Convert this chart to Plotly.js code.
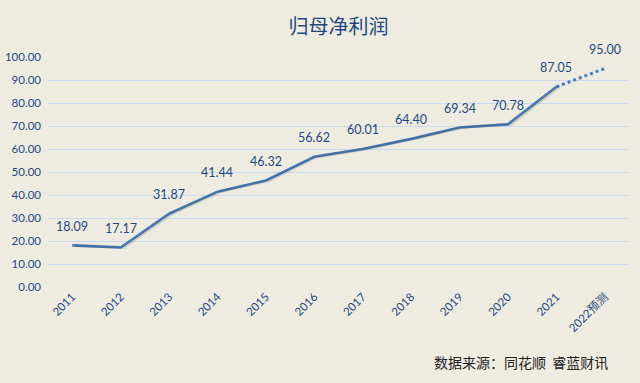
<!DOCTYPE html>
<html>
<head>
<meta charset="utf-8">
<script src="https://cdn.plot.ly/plotly-3.0.1.min.js"></script>
<style>html,body{margin:0;padding:0;background:#fff;}#chart{width:640px;height:383px;}</style>
</head>
<body>
<div id="chart"></div>
<script>
var categories = ["2011","2012","2013","2014","2015","2016","2017","2018","2019","2020","2021","2022预测"];
var profit = [18.09,17.17,31.87,41.44,46.32,56.62,60.01,64.40,69.34,70.78,87.05,95.00];
var yTicks = [0,10,20,30,40,50,60,70,80,90,100];
var titleText = "归母净利润";
var sourceText = "数据来源：同花顺  睿蓝财讯";

var dark = "#1F497D";
var lineColor = "#4A7EBB";

var actualX = categories.slice(0, 11);
var actualY = profit.slice(0, 11);
var forecastX = categories.slice(10);
var forecastY = profit.slice(10);

var traces = [
  {x: actualX, y: actualY, type: "scatter", mode: "lines", line: {color: "rgba(0,0,0,0.12)", width: 3}, hoverinfo: "skip", xaxis: "x2"},
  {x: actualX, y: actualY, type: "scatter", mode: "lines", line: {color: lineColor, width: 2.6}},
  {x: forecastX, y: forecastY, type: "scatter", mode: "lines", line: {color: lineColor, width: 3, dash: "dot"}}
];

var annotations = categories.map(function(c, i){
  return {x: i, y: profit[i], xref: "x", yref: "y", text: profit[i].toFixed(2), showarrow: false,
    yshift: 19, font: {family: "Lato, 'Open Sans', sans-serif", size: 12.5, color: dark}};
});
annotations.push({x: 0.967, y: -0.326, xref: "paper", yref: "paper", xanchor: "right", yanchor: "middle",
  text: sourceText, showarrow: false, font: {family: "'Noto Sans CJK SC', sans-serif", size: 14, color: "#222"}});

var layout = {
  width: 640, height: 383,
  paper_bgcolor: "#EEECE1", plot_bgcolor: "#EEECE1",
  margin: {l: 48, r: 11, t: 57, b: 96},
  showlegend: false,
  title: {text: titleText, x: 0.5, xref: "paper", xanchor: "center", y: 0.93, yanchor: "middle",
    font: {family: "'Noto Sans CJK SC', serif", size: 20, color: dark}},
  xaxis: {type: "category", categoryarray: categories, categoryorder: "array", range: [-0.5, 11.5],
    showgrid: false, zeroline: false, showline: false, ticks: "", tickangle: -45,
    tickfont: {family: "Lato, 'Noto Sans CJK SC', sans-serif", size: 11.5, color: dark}},
  xaxis2: {type: "category", overlaying: "x", visible: false, range: [-0.5 - 0.06, 11.5 - 0.06], categoryarray: categories, categoryorder: "array"},
  yaxis: {range: [0, 100], tickvals: yTicks, ticktext: yTicks.map(function(v){return v.toFixed(2);}),
    showgrid: true, gridcolor: "#C9DAF0", gridwidth: 1, zeroline: false, showline: false, ticks: "",
    ticklabelstandoff: 6,
    tickfont: {family: "Lato, 'Open Sans', sans-serif", size: 11.5, color: dark}},
  annotations: annotations
};

Plotly.newPlot("chart", traces, layout, {displayModeBar: false, staticPlot: true});
</script>
</body>
</html>
